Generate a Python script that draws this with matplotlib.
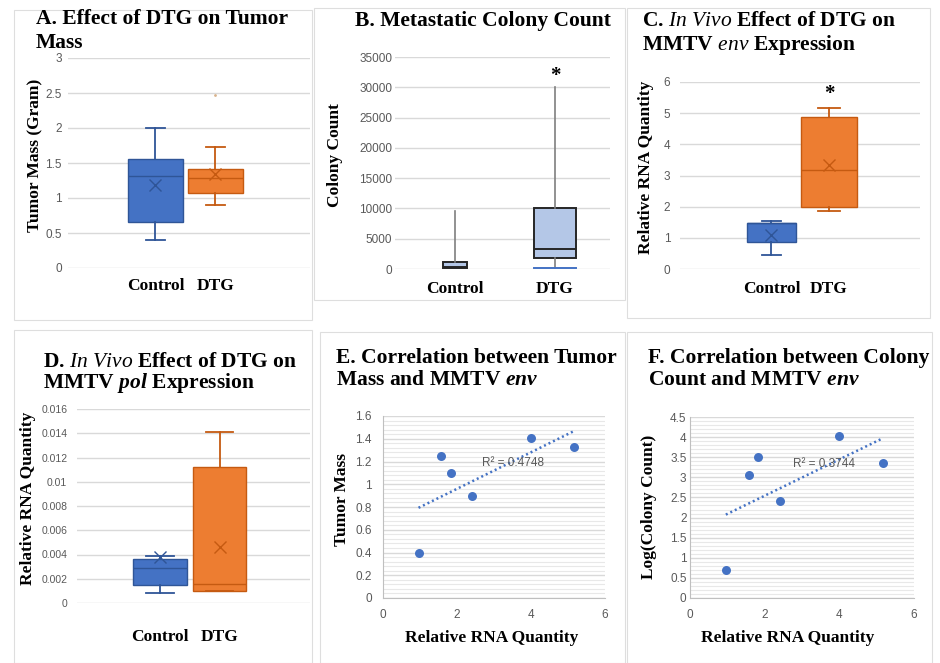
import numpy as np
import matplotlib
matplotlib.use('Agg')
import matplotlib.pyplot as plt
from matplotlib.patches import Rectangle
from matplotlib.ticker import MultipleLocator, FuncFormatter

plt.rcParams['font.family'] = 'Liberation Sans'
plt.rcParams['mathtext.fontset'] = 'custom'
plt.rcParams['mathtext.rm'] = 'Liberation Serif:bold'
plt.rcParams['mathtext.it'] = 'Liberation Serif:italic'
plt.rcParams['mathtext.bf'] = 'Liberation Serif:italic:bold'

groups = ['Control', 'DTG']

# A. tumor mass (gram)
mass_q1 = [0.66, 1.07]
mass_med = [1.32, 1.29]
mass_q3 = [1.56, 1.41]
mass_lo = [0.40, 0.90]
mass_hi = [2.00, 1.73]
mass_mean = [1.19, 1.35]
mass_out = [[], [2.47]]

# B. metastatic colony count
col_q1 = [150, 1800]
col_med = [250, 3300]
col_q3 = [1200, 10000]
col_lo = [150, 100]
col_hi = [9500, 30000]

# C. MMTV env relative RNA
env_q1 = [0.86, 1.99]
env_med = [1.47, 3.18]
env_q3 = [1.47, 4.87]
env_lo = [0.44, 1.86]
env_hi = [1.54, 5.16]
env_mean = [1.09, 3.33]

# D. MMTV pol relative RNA
pol_q1 = [0.0015, 0.0010]
pol_med = [0.0029, 0.0016]
pol_q3 = [0.0036, 0.0112]
pol_lo = [0.0008, 0.0010]
pol_hi = [0.0039, 0.0141]
pol_mean = [0.0038, 0.0046]

# E/F. correlations
env_rna = [0.96, 1.58, 1.83, 2.40, 3.99, 5.17]
tumor_mass = [0.40, 1.25, 1.10, 0.90, 1.41, 1.33]
log_colony = [0.70, 3.06, 3.50, 2.40, 4.02, 3.35]
r2_mass = 0.4748
r2_colony = 0.3744

SERIF = 'Liberation Serif'
TICK_COLOR = '#595959'
GRID = '#D9D9D9'
BLUE, ORANGE = '#4472C4', '#ED7D31'
BLUE_E, ORANGE_E = '#2F5597', '#C55A11'

W, H = 940, 663
fig = plt.figure(figsize=(W / 100, H / 100), dpi=100)


def px_axes(l, t, r, b):
    return fig.add_axes([l / W, 1 - b / H, (r - l) / W, (b - t) / H])


def ftext(x, y, s, **kw):
    fig.text(x / W, 1 - y / H, s, **kw)


def title(x, y, s, **kw):
    ftext(x, y, s, fontfamily=SERIF, fontweight='bold', fontsize=15.5, va='baseline', **kw)


def ylabel(x, y, s):
    ftext(x, y, s, fontfamily=SERIF, fontweight='bold', fontsize=12.5,
          rotation=90, ha='center', va='center')


def fmt(v, p):
    return '%g' % round(v, 6)


def make_stats(q1, med, q3, lo, hi, mean=None, out=None):
    stats = []
    for i in range(len(q1)):
        d = dict(q1=q1[i], med=med[i], q3=q3[i], whislo=lo[i], whishi=hi[i],
                 fliers=out[i] if out else [])
        if mean:
            d['mean'] = mean[i]
        stats.append(d)
    return stats


def color_boxes(bp, faces, edges, lw=1.0):
    for i in range(len(faces)):
        bp['boxes'][i].set(facecolor=faces[i], edgecolor=edges[i], lw=lw)
        bp['medians'][i].set(color=edges[i], lw=lw)
        for k in (2 * i, 2 * i + 1):
            bp['whiskers'][k].set(color=edges[i], lw=1.3)
            bp['caps'][k].set(color=edges[i], lw=1.3)
        if bp['means']:
            bp['means'][i].set(marker='x', markeredgecolor=edges[i], markersize=8, mew=1)
        if bp['fliers']:
            bp['fliers'][i].set(marker='.', markersize=2, markeredgecolor='#D9B38C',
                                markerfacecolor='#D9B38C')


def style_box_axes(ax, ylim, ystep, xlim, xpad, ypad, ysize=8.5):
    ax.set_xlim(*xlim)
    ax.set_ylim(*ylim)
    ax.yaxis.set_major_locator(MultipleLocator(ystep))
    ax.yaxis.set_major_formatter(FuncFormatter(fmt))
    ax.grid(axis='y', color=GRID, lw=1)
    ax.set_axisbelow(True)
    for s in ax.spines.values():
        s.set_visible(False)
    ax.set_xticks(range(len(groups)), groups, fontfamily=SERIF, fontweight='bold', fontsize=12.5)
    ax.tick_params(axis='x', length=0, pad=xpad)
    ax.tick_params(axis='y', length=0, pad=ypad, labelsize=ysize, labelcolor=TICK_COLOR)


# panel frames
for l, t, r, b in [(14, 10, 312, 320), (314, 8, 625, 300), (627, 8, 930, 318),
                   (14, 330, 312, 663), (320, 332, 625, 663), (627, 332, 932, 663)]:
    fig.add_artist(Rectangle((l / W, 1 - b / H), (r - l) / W, (b - t) / H,
                             transform=fig.transFigure, fill=False, ec='#DEDEDE', lw=0.8))

# ---- A
ax = px_axes(68, 58, 310, 268)
w = np.array([0.92, 0.92])
bp = ax.bxp(make_stats(mass_q1, mass_med, mass_q3, mass_lo, mass_hi, mass_mean, mass_out),
            positions=[0, 1], widths=w, capwidths=w * 0.33, patch_artist=True,
            showmeans=True, manage_ticks=False)
color_boxes(bp, [BLUE, ORANGE], [BLUE_E, ORANGE_E])
style_box_axes(ax, (0, 3), 0.5, (-1.458, 2.575), 7, 4.3)
title(36, 24, 'A. Effect of DTG on Tumor')
title(36, 48, 'Mass')
ylabel(35, 155, 'Tumor Mass (Gram)')

# ---- B
ax = px_axes(395, 57, 610, 269)
w = np.array([0.24, 0.42])
bp = ax.bxp(make_stats(col_q1, col_med, col_q3, col_lo, col_hi),
            positions=[0, 1], widths=w, capwidths=w, patch_artist=True, manage_ticks=False)
for i in range(2):
    bp['boxes'][i].set(facecolor='#B4C7E7', edgecolor='#262626', lw=1.4)
    bp['medians'][i].set(color='#262626', lw=1.4)
    bp['whiskers'][2 * i].set(color='#7F7F7F', lw=1.2)
    bp['whiskers'][2 * i + 1].set(color='#7F7F7F', lw=1.2)
    bp['caps'][2 * i].set(color=BLUE, lw=1.4)
    bp['caps'][2 * i + 1].set_visible(False)
bp['caps'][0].set_visible(False)
style_box_axes(ax, (0, 35000), 5000, (-0.6, 1.55), 8.5, 2)
ax.annotate('*', (1, col_hi[1]), xytext=(0, 4.3), textcoords='offset points',
            ha='center', va='baseline', fontfamily=SERIF, fontweight='bold', fontsize=15)
title(355, 26, 'B. Metastatic Colony Count')
ylabel(335, 155, 'Colony Count')

# ---- C
ax = px_axes(680, 82, 920, 269)
w = np.array([0.85, 0.97])
bp = ax.bxp(make_stats(env_q1, env_med, env_q3, env_lo, env_hi, env_mean),
            positions=[0, 1], widths=w, capwidths=w * 0.4, patch_artist=True,
            showmeans=True, manage_ticks=False)
color_boxes(bp, [BLUE, ORANGE], [BLUE_E, ORANGE_E])
style_box_axes(ax, (0, 6), 1, (-1.591, 2.583), 8.5, 7)
ax.annotate('*', (1, env_hi[1]), xytext=(0, 6.5), textcoords='offset points',
            ha='center', va='baseline', fontfamily=SERIF, fontweight='bold', fontsize=15)
title(642, 26, r'C. $\mathit{In\ Vivo}$ Effect of DTG on')
title(642, 50, r'MMTV $\mathit{env}$ Expression')
ylabel(646, 167, 'Relative RNA Quantity')

# ---- D
ax = px_axes(77, 409, 310, 603)
w = np.array([0.91, 0.89])
bp = ax.bxp(make_stats(pol_q1, pol_med, pol_q3, pol_lo, pol_hi, pol_mean),
            positions=[0, 1], widths=w, capwidths=w * 0.5, patch_artist=True,
            showmeans=True, manage_ticks=False)
color_boxes(bp, [BLUE, ORANGE], [BLUE_E, ORANGE_E])
style_box_axes(ax, (0, 0.016), 0.002, (-1.395, 2.521), 19, 7, ysize=7.5)
title(43, 367, r'D. $\mathit{In\ Vivo}$ Effect of DTG on')
title(43, 388, r'MMTV $\mathbf{pol}$ Expression')
ylabel(28, 498, 'Relative RNA Quantity')


# ---- E / F
def scatter_panel(ax, x, y, r2, ytop, ystep, yminor, r2xy, ypad):
    x = np.array(x)
    y = np.array(y)
    ax.scatter(x, y, s=42, color=BLUE, zorder=3, linewidths=0)
    k, b = np.polyfit(x, y, 1)
    xs = np.array([x.min(), x.max()])
    ax.plot(xs, k * xs + b, ls=(0, (0.8, 1.2)), color=BLUE, lw=1.8, zorder=2)
    ax.text(r2xy[0], r2xy[1], 'R² = %.4f' % r2, ha='center', va='center',
            fontsize=8.5, color=TICK_COLOR, zorder=2)
    ax.set_xlim(0, 6)
    ax.set_ylim(0, ytop)
    ax.xaxis.set_major_locator(MultipleLocator(2))
    ax.yaxis.set_major_locator(MultipleLocator(ystep))
    ax.yaxis.set_minor_locator(MultipleLocator(yminor))
    ax.yaxis.set_major_formatter(FuncFormatter(fmt))
    ax.grid(axis='y', which='major', color=GRID, lw=1)
    ax.grid(axis='y', which='minor', color='#E8E8E8', lw=0.8)
    ax.set_axisbelow(True)
    for s in ('top', 'right'):
        ax.spines[s].set_visible(False)
    for s in ('left', 'bottom'):
        ax.spines[s].set_color('#BFBFBF')
    ax.tick_params(axis='x', length=0, pad=8, labelsize=8.5, labelcolor=TICK_COLOR)
    ax.tick_params(axis='y', which='both', length=0, pad=ypad, labelsize=8.5, labelcolor=TICK_COLOR)


ax = px_axes(383, 416, 605, 598)
scatter_panel(ax, env_rna, tumor_mass, r2_mass, 1.6, 0.2, 0.04, (3.5, 1.19), 8)
title(336, 363, 'E. Correlation between Tumor')
title(336, 385, r'Mass and MMTV $\mathbf{env}$')
ylabel(342, 500, 'Tumor Mass')
ftext(492, 638, 'Relative RNA Quantity', fontfamily=SERIF, fontweight='bold',
      fontsize=12.5, ha='center', va='center')

ax = px_axes(690, 417, 914, 598)
scatter_panel(ax, env_rna, log_colony, r2_colony, 4.5, 0.5, 0.1, (3.6, 3.34), 2.5)
title(648, 363, 'F. Correlation between Colony')
title(648, 385, r'Count and MMTV $\mathbf{env}$')
ylabel(649, 507, 'Log(Colony Count)')
ftext(788, 638, 'Relative RNA Quantity', fontfamily=SERIF, fontweight='bold',
      fontsize=12.5, ha='center', va='center')

fig.savefig('out.png', dpi=100)
